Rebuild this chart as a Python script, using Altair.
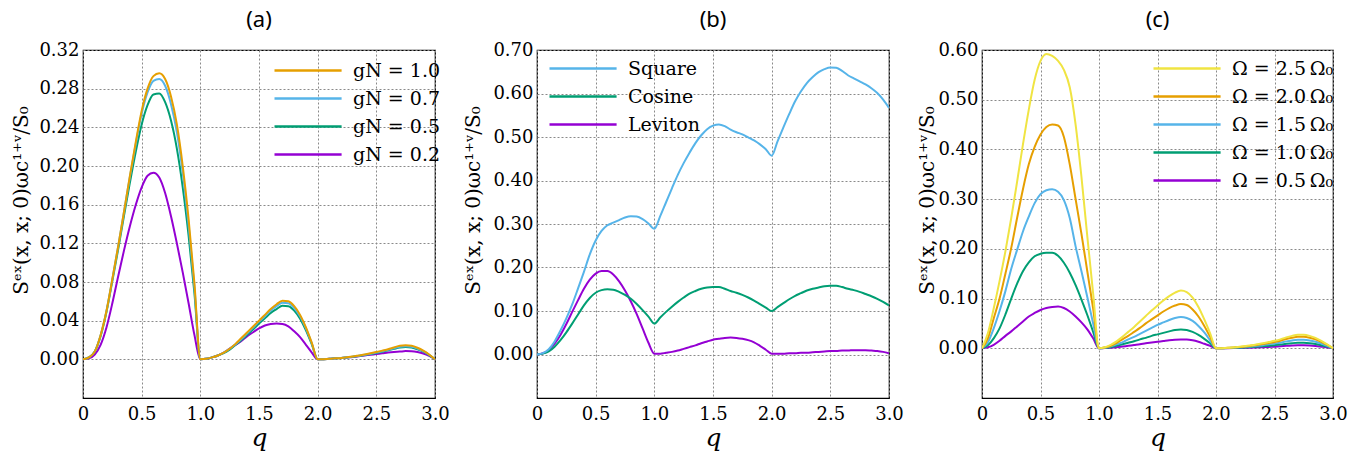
import altair as alt
import pandas as pd

Q = [0.0, 0.05, 0.1, 0.15, 0.2, 0.25, 0.3, 0.35, 0.4, 0.45, 0.5, 0.55, 0.6, 0.65, 0.7, 0.75, 0.8, 0.85, 0.9, 0.95,
     1.0, 1.05, 1.1, 1.15, 1.2, 1.25, 1.3, 1.35, 1.4, 1.45, 1.5, 1.55, 1.6, 1.65, 1.7, 1.75, 1.8, 1.85, 1.9, 1.95,
     2.0, 2.05, 2.1, 2.15, 2.2, 2.25, 2.3, 2.35, 2.4, 2.45, 2.5, 2.55, 2.6, 2.65, 2.7, 2.75, 2.8, 2.85, 2.9, 2.95, 3.0]

# ---- panel (a) ----
A_NAMES = ["gN = 1.0", "gN = 0.7", "gN = 0.5", "gN = 0.2"]
A_COLORS = ["#E69F00", "#56B4E9", "#009E73", "#9400D3"]
A_G10 = [0, 0.002, 0.008, 0.025, 0.05, 0.083, 0.117, 0.153, 0.19, 0.225, 0.257, 0.280, 0.293, 0.296, 0.290, 0.272, 0.243, 0.200, 0.145, 0.078, 0,
         0.0005, 0.002, 0.004, 0.007, 0.011, 0.016, 0.022, 0.028, 0.034, 0.040, 0.046, 0.052, 0.057, 0.0605, 0.060, 0.055, 0.046, 0.033, 0.017, 0,
         0.0002, 0.0005, 0.001, 0.0015, 0.0022, 0.003, 0.004, 0.005, 0.0062, 0.0075, 0.009, 0.0105, 0.0123, 0.014, 0.0145, 0.014, 0.012, 0.009, 0.005, 0]
A_G07 = [0, 0.002, 0.008, 0.025, 0.05, 0.083, 0.117, 0.153, 0.189, 0.223, 0.254, 0.276, 0.288, 0.290, 0.283, 0.264, 0.235, 0.193, 0.139, 0.074, 0,
         0.0005, 0.002, 0.004, 0.007, 0.011, 0.0155, 0.021, 0.027, 0.033, 0.039, 0.0445, 0.0505, 0.055, 0.0585, 0.058, 0.053, 0.0445, 0.032, 0.0165, 0,
         0.0002, 0.0005, 0.001, 0.0015, 0.0021, 0.0028, 0.0037, 0.0047, 0.0058, 0.007, 0.0084, 0.0098, 0.0115, 0.013, 0.0135, 0.013, 0.0112, 0.0084, 0.0047, 0]
A_G05 = [0, 0.002, 0.008, 0.024, 0.049, 0.081, 0.114, 0.149, 0.183, 0.215, 0.243, 0.263, 0.274, 0.275, 0.266, 0.247, 0.218, 0.178, 0.128, 0.068, 0,
         0.0005, 0.002, 0.004, 0.0065, 0.010, 0.015, 0.020, 0.0255, 0.031, 0.037, 0.0425, 0.048, 0.052, 0.0555, 0.055, 0.0505, 0.042, 0.030, 0.0155, 0,
         0.0002, 0.0005, 0.001, 0.0014, 0.002, 0.0027, 0.0035, 0.0044, 0.0055, 0.0066, 0.0079, 0.0093, 0.0108, 0.0122, 0.0128, 0.0122, 0.0105, 0.0079, 0.0044, 0]
A_G02 = [0, 0.001, 0.005, 0.015, 0.033, 0.058, 0.086, 0.113, 0.138, 0.160, 0.178, 0.190, 0.193, 0.188, 0.172, 0.148, 0.120, 0.090, 0.058, 0.025, 0,
         0.0005, 0.002, 0.004, 0.007, 0.011, 0.015, 0.019, 0.024, 0.028, 0.032, 0.035, 0.0365, 0.037, 0.0365, 0.034, 0.029, 0.023, 0.015, 0.007, 0,
         0.0002, 0.0005, 0.001, 0.0015, 0.002, 0.0025, 0.0032, 0.004, 0.0047, 0.0055, 0.0062, 0.007, 0.0076, 0.008, 0.0085, 0.0083, 0.0075, 0.006, 0.0035, 0]
A_YTICKS = [0.0, 0.04, 0.08, 0.12, 0.16, 0.2, 0.24, 0.28, 0.32]

# ---- panel (b) ----
B_NAMES = ["Square", "Cosine", "Leviton"]
B_COLORS = ["#56B4E9", "#009E73", "#9400D3"]
B_SQUARE = [0.0, 0.003, 0.012, 0.03, 0.055, 0.083, 0.115, 0.152, 0.19, 0.23, 0.262, 0.284, 0.297, 0.303, 0.309, 0.315, 0.318, 0.317, 0.311, 0.301, 0.289,
            0.318, 0.35, 0.382, 0.413, 0.44, 0.464, 0.486, 0.504, 0.518, 0.526, 0.529, 0.525, 0.517, 0.511, 0.506, 0.499, 0.492, 0.483, 0.472, 0.457,
            0.49, 0.522, 0.553, 0.582, 0.605, 0.624, 0.638, 0.649, 0.656, 0.66, 0.659, 0.652, 0.642, 0.635, 0.628, 0.621, 0.612, 0.601, 0.586, 0.567]
B_COSINE = [0, 0.002, 0.007, 0.018, 0.033, 0.051, 0.071, 0.092, 0.113, 0.13, 0.142, 0.148, 0.15, 0.149, 0.144, 0.137, 0.128, 0.116, 0.102, 0.087, 0.071,
            0.085, 0.098, 0.11, 0.121, 0.131, 0.14, 0.146, 0.151, 0.154, 0.155, 0.155, 0.151, 0.146, 0.142, 0.137, 0.131, 0.124, 0.116, 0.108, 0.1,
            0.109, 0.118, 0.127, 0.135, 0.141, 0.147, 0.151, 0.154, 0.157, 0.158, 0.158, 0.155, 0.151, 0.148, 0.144, 0.139, 0.134, 0.128, 0.121, 0.113]
B_LEVITON = [0, 0.003, 0.01, 0.025, 0.045, 0.07, 0.098, 0.125, 0.151, 0.172, 0.186, 0.192, 0.192, 0.184, 0.168, 0.147, 0.122, 0.093, 0.06, 0.027, 0.002,
             0.002, 0.004, 0.006, 0.009, 0.013, 0.017, 0.021, 0.026, 0.03, 0.034, 0.036, 0.038, 0.039, 0.038, 0.036, 0.033, 0.028, 0.02, 0.011, 0.002,
             0.002, 0.002, 0.003, 0.003, 0.004, 0.004, 0.005, 0.006, 0.007, 0.008, 0.008, 0.009, 0.009, 0.01, 0.01, 0.01, 0.009, 0.008, 0.006, 0.003]
B_YTICKS = [0.0, 0.1, 0.2, 0.3, 0.4, 0.5, 0.6, 0.7]

# ---- panel (c) ----
C_NAMES = ["Ω = 2.5\u2009Ω₀", "Ω = 2.0\u2009Ω₀", "Ω = 1.5\u2009Ω₀", "Ω = 1.0\u2009Ω₀", "Ω = 0.5\u2009Ω₀"]
C_COLORS = ["#F0E442", "#E69F00", "#56B4E9", "#009E73", "#9400D3"]
C_W25 = [0, 0.03, 0.08, 0.135, 0.195, 0.262, 0.335, 0.41, 0.48, 0.54, 0.578, 0.592, 0.588, 0.578, 0.56, 0.525, 0.45, 0.345, 0.225, 0.11, 0,
         0.002, 0.007, 0.014, 0.023, 0.033, 0.043, 0.054, 0.065, 0.076, 0.086, 0.096, 0.105, 0.112, 0.116, 0.113, 0.102, 0.083, 0.058, 0.03, 0,
         0.0003, 0.001, 0.002, 0.003, 0.0045, 0.006, 0.008, 0.01, 0.0125, 0.015, 0.018, 0.022, 0.025, 0.027, 0.027, 0.025, 0.021, 0.015, 0.008, 0]
C_W20 = [0, 0.02, 0.06, 0.10, 0.15, 0.202, 0.262, 0.32, 0.37, 0.405, 0.43, 0.445, 0.45, 0.448, 0.425, 0.37, 0.30, 0.23, 0.155, 0.08, 0,
         0.0015, 0.005, 0.011, 0.018, 0.025, 0.033, 0.041, 0.05, 0.058, 0.066, 0.074, 0.081, 0.086, 0.089, 0.087, 0.078, 0.064, 0.045, 0.023, 0,
         0.0003, 0.001, 0.0017, 0.0025, 0.0038, 0.005, 0.0068, 0.0085, 0.0106, 0.0128, 0.0153, 0.0187, 0.0213, 0.023, 0.023, 0.0213, 0.0179, 0.0128, 0.0068, 0]
C_W15 = [0, 0.012, 0.04, 0.075, 0.115, 0.16, 0.198, 0.235, 0.265, 0.292, 0.31, 0.318, 0.32, 0.315, 0.298, 0.262, 0.205, 0.155, 0.103, 0.05, 0,
         0.001, 0.004, 0.008, 0.012, 0.018, 0.023, 0.029, 0.035, 0.041, 0.047, 0.052, 0.057, 0.061, 0.063, 0.061, 0.055, 0.045, 0.032, 0.016, 0,
         0.0002, 0.0006, 0.0013, 0.0019, 0.0028, 0.0038, 0.005, 0.0063, 0.0079, 0.0095, 0.0113, 0.0139, 0.0158, 0.017, 0.017, 0.0158, 0.0132, 0.0095, 0.005, 0]
C_W10 = [0, 0.006, 0.02, 0.04, 0.068, 0.1, 0.13, 0.155, 0.173, 0.185, 0.19, 0.192, 0.192, 0.186, 0.172, 0.152, 0.127, 0.098, 0.067, 0.033, 0,
         0.001, 0.002, 0.005, 0.008, 0.011, 0.014, 0.018, 0.021, 0.025, 0.028, 0.031, 0.034, 0.037, 0.038, 0.037, 0.033, 0.027, 0.019, 0.01, 0,
         0.0001, 0.0004, 0.0008, 0.0012, 0.0018, 0.0025, 0.0033, 0.0041, 0.0051, 0.0062, 0.0074, 0.009, 0.0103, 0.011, 0.011, 0.0103, 0.0086, 0.0062, 0.0033, 0]
C_W05 = [0, 0.002, 0.007, 0.015, 0.025, 0.034, 0.044, 0.054, 0.064, 0.071, 0.077, 0.081, 0.083, 0.084, 0.081, 0.074, 0.064, 0.052, 0.038, 0.02, 0,
         0.0005, 0.001, 0.002, 0.0035, 0.005, 0.0065, 0.008, 0.01, 0.0115, 0.013, 0.0145, 0.016, 0.017, 0.0175, 0.0175, 0.016, 0.013, 0.009, 0.005, 0,
         0.0001, 0.0002, 0.0004, 0.0007, 0.001, 0.0013, 0.0018, 0.0022, 0.0028, 0.0033, 0.004, 0.0049, 0.0056, 0.006, 0.006, 0.0056, 0.0047, 0.0033, 0.0018, 0]
C_YTICKS = [0.0, 0.1, 0.2, 0.3, 0.4, 0.5, 0.6]

X_TICKS = [0.0, 0.5, 1.0, 1.5, 2.0, 2.5, 3.0]
Y_TITLE = "Sᵉˣ(x, x; 0)ωc¹⁺ᵛ/S₀"
SERIF = "DejaVu Serif"


def frame(names, series):
    rows = []
    # draw in reverse so the first legend entry ends up on top
    for name, vals in reversed(list(zip(names, series))):
        for q, v in zip(Q, vals):
            rows.append({"q": q, "v": v, "series": name})
    return pd.DataFrame(rows)


def panel(names, colors, series, ydom, yticks, title, lx, ly, w, tpad):
    df = frame(names, series)
    return alt.Chart(df).mark_line(strokeWidth=2, interpolate="monotone", clip=True).encode(
        x=alt.X("q:Q", scale=alt.Scale(domain=[0, 3], nice=False, zero=False),
                axis=alt.Axis(values=X_TICKS, title="q", titleFont=SERIF, titleFontStyle="italic",
                              titleFontSize=25, titleFontWeight="normal", titleColor="black",
                              titlePadding=2, labelFont=SERIF, labelFontSize=18,
                              labelColor="black", labelPadding=7, labelFlush=False,
                              labelExpr="datum.value == 0 ? '0' : format(datum.value, '.1f')")),
        y=alt.Y("v:Q", scale=alt.Scale(domain=ydom, nice=False, zero=False),
                axis=alt.Axis(values=yticks, format=".2f", title=Y_TITLE, titleFont=SERIF,
                              titleFontSize=20, titleFontWeight="normal", titleColor="black",
                              titlePadding=tpad, titleY=150, labelFont=SERIF, labelFontSize=18,
                              labelColor="black", labelPadding=4, labelFlush=False)),
        color=alt.Color("series:N", sort=names,
                        scale=alt.Scale(domain=names, range=colors),
                        legend=alt.Legend(title=None, orient="none", legendX=lx, legendY=ly,
                                          symbolType="M-1,0H5.1", symbolSize=484,
                                          symbolStrokeWidth=2.6, labelFont=SERIF,
                                          labelFontSize=19, labelColor="black",
                                          labelOffset=55, rowPadding=5, padding=0)),
    ).properties(
        width=w, height=348,
        title=alt.TitleParams(title, font="Noto Sans", fontSize=22, fontWeight="normal",
                              anchor="middle", offset=11, dy=2, color="black"),
    )


pa = panel(A_NAMES, A_COLORS, [A_G10, A_G07, A_G05, A_G02], [-0.04, 0.32], A_YTICKS, "(a)", 190, 8, 352, 7)
pb = panel(B_NAMES, B_COLORS, [B_SQUARE, B_COSINE, B_LEVITON], [-0.1, 0.7], B_YTICKS, "(b)", 11, 6, 352, 9)
pc = panel(C_NAMES, C_COLORS, [C_W25, C_W20, C_W15, C_W10, C_W05], [-0.1, 0.6], C_YTICKS, "(c)", 170, 6, 351, 0)

chart = alt.hconcat(pa, pb, pc, spacing=13).resolve_scale(
    color="independent", y="independent"
).properties(
    padding={"left": 3, "top": 0, "right": 5, "bottom": 5}
).configure_view(
    stroke="black", strokeWidth=1.2
).configure_axis(
    grid=True, gridColor="#8a8a8a", gridDash=[2, 2], gridWidth=1, domain=False, ticks=False
)

chart.save("out.html", embed_options={"renderer": "svg", "actions": False})
